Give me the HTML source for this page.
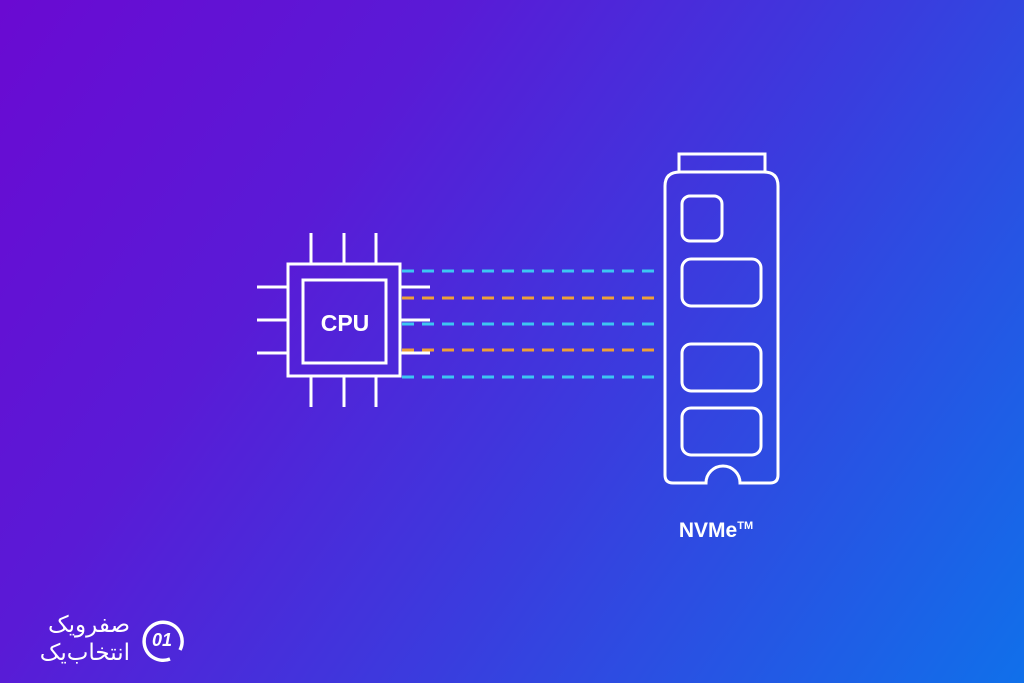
<!DOCTYPE html>
<html><head><meta charset="utf-8"><style>
html,body{margin:0;padding:0}
body{width:1024px;height:683px;overflow:hidden;background:linear-gradient(125deg,#6a0ad2 0%,#5a1ad6 30%,#3a3cde 60%,#1070ea 100%);font-family:"Liberation Sans",sans-serif}
</style></head><body>
<svg width="1024" height="683" viewBox="0 0 1024 683" xmlns="http://www.w3.org/2000/svg" style="position:absolute;left:0;top:0">
<g stroke="#fff" stroke-width="3" fill="none">
<rect x="288" y="264" width="112" height="112"/>
<rect x="303" y="280" width="83" height="83"/>
<line x1="311" y1="233" x2="311" y2="264"/><line x1="344" y1="233" x2="344" y2="264"/><line x1="376" y1="233" x2="376" y2="264"/>
<line x1="311" y1="376" x2="311" y2="407"/><line x1="344" y1="376" x2="344" y2="407"/><line x1="376" y1="376" x2="376" y2="407"/>
<line x1="257" y1="287" x2="288" y2="287"/><line x1="257" y1="320" x2="288" y2="320"/><line x1="257" y1="353" x2="288" y2="353"/>
<line x1="400" y1="287" x2="430" y2="287"/><line x1="400" y1="320" x2="430" y2="320"/><line x1="400" y1="353" x2="430" y2="353"/>
</g>
<text x="345" y="331" fill="#fff" font-size="23" font-weight="bold" text-anchor="middle" font-family="Liberation Sans,sans-serif">CPU</text>
<g stroke-width="3" stroke-dasharray="12 8" fill="none">
<line x1="402" y1="271" x2="662" y2="271" stroke="#3cc6f2"/>
<line x1="402" y1="298" x2="662" y2="298" stroke="#eea038"/>
<line x1="402" y1="324" x2="662" y2="324" stroke="#3cc6f2"/>
<line x1="402" y1="350" x2="662" y2="350" stroke="#eea038"/>
<line x1="402" y1="377" x2="662" y2="377" stroke="#3cc6f2"/>
</g>
<g stroke="#fff" stroke-width="3" fill="none">
<rect x="679" y="154" width="86" height="18"/>
<path d="M680 172 H764 Q778 172 778 186 V475 Q778 483 770 483 H740 A16 16 0 0 0 706 483 H673 Q665 483 665 475 V186 Q665 172 680 172 Z"/>
<rect x="682" y="196" width="40" height="45" rx="8"/>
<rect x="682" y="259" width="79" height="47" rx="9"/>
<rect x="682" y="344" width="79" height="47" rx="9"/>
<rect x="682" y="408" width="79" height="47" rx="9"/>
</g>
<text x="716" y="537" fill="#fff" font-size="21" font-weight="bold" text-anchor="middle" font-family="Liberation Sans,sans-serif">NVMe<tspan font-size="11" dy="-8">TM</tspan></text>
<g stroke="#fff" stroke-width="3.5" fill="none">
<path d="M180 650 A19 19 0 1 0 170 659"/>
</g>
<text x="162" y="646" fill="#fff" font-size="18" font-weight="bold" text-anchor="middle" font-style="italic" font-family="Liberation Sans,sans-serif">01</text>
<text x="130" y="632" fill="#fff" font-size="23" text-anchor="end" font-family="DejaVu Sans,sans-serif">صفرویک</text>
<text x="130" y="660" fill="#fff" font-size="23" text-anchor="end" font-family="DejaVu Sans,sans-serif">انتخاب‌یک</text>
</svg>
</body></html>
